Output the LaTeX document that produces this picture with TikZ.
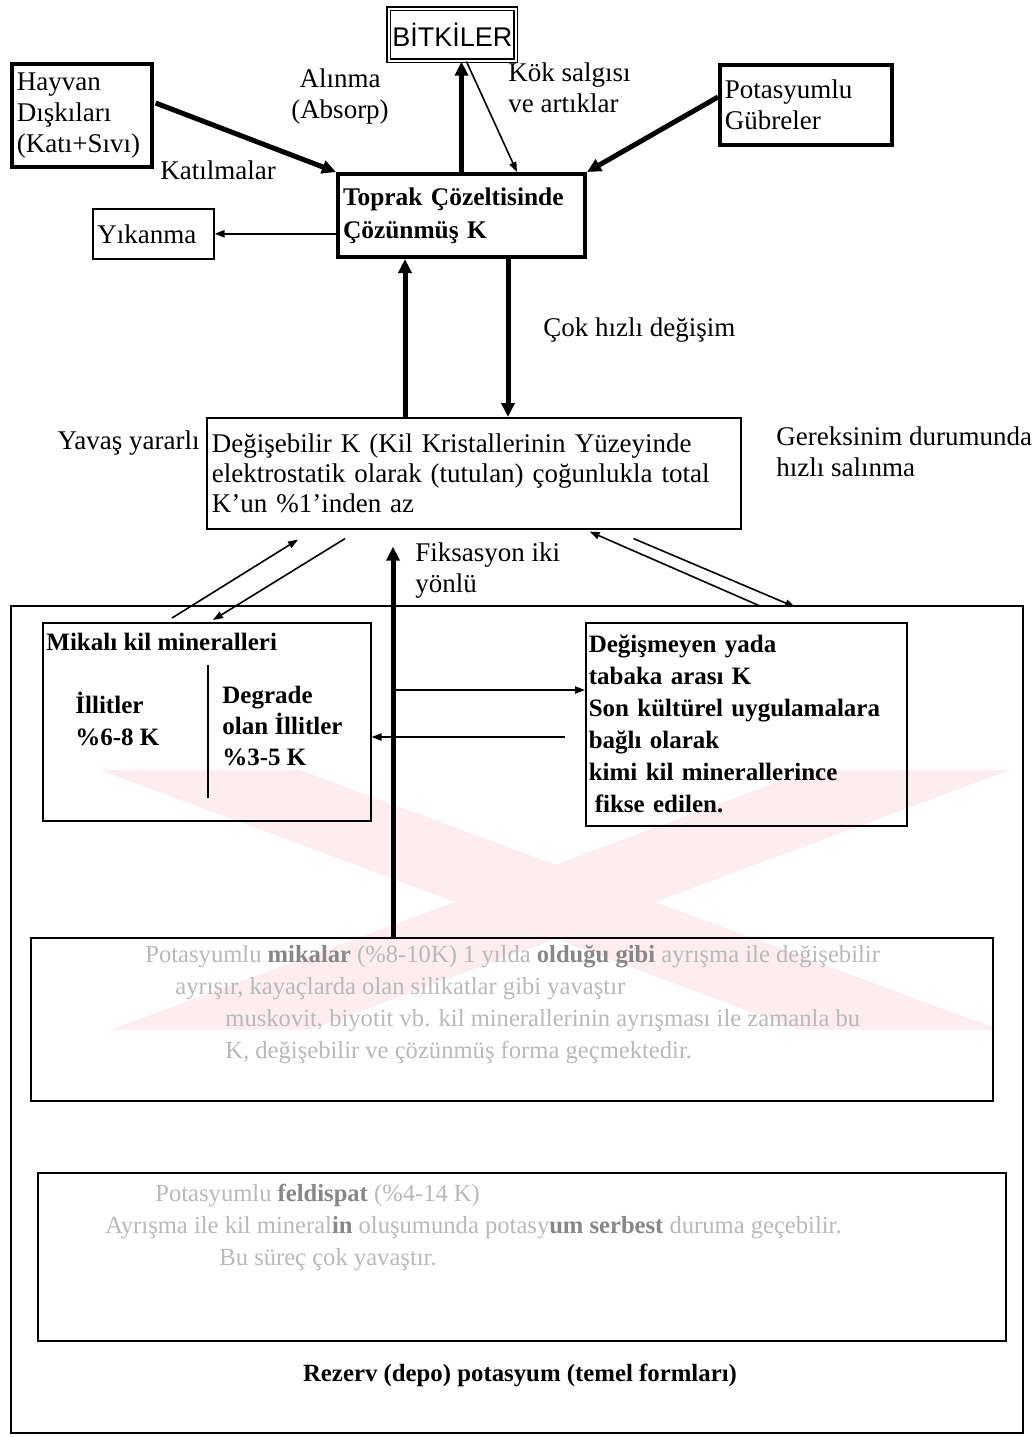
\documentclass[tikz,border=0pt]{standalone}
\usepackage{fontspec}
\setmainfont{Liberation Serif}
\newfontfamily\arialf{Liberation Sans}
\usetikzlibrary{arrows.meta,calc}
\definecolor{wm}{RGB}{253,237,240}
\definecolor{fade}{RGB}{185,185,185}
\definecolor{fadedark}{RGB}{135,135,135}
\tikzset{
  reg/.style={font=\fontsize{13.5}{15.5}\selectfont},
  bld/.style={font=\fontsize{12.5}{16}\selectfont\bfseries},
  thickbox/.style={draw, line width=1.8pt, anchor=north west, inner ysep=0pt, inner xsep=2.5pt, align=left},
  thinbox/.style={draw, line width=0.8pt, anchor=north west, inner ysep=0pt, inner xsep=2.5pt, align=left},
  medbox/.style={draw, line width=1.2pt, anchor=north west, inner sep=0pt},
  dblbox/.style={draw, line width=0.8pt, double, double distance=1pt, anchor=north west, inner sep=0pt},
  bigarrow/.style={line width=2.5pt, -{Triangle[length=7pt,width=6.5pt]}},
  smallarrow/.style={line width=0.8pt, -{Triangle[length=5pt,width=3.6pt]}},
  lbl/.style={inner sep=0pt, reg},
  fadetext/.style={inner sep=0pt, anchor=north west, align=left, text=fade, font=\fontsize{12.3}{16}\selectfont},
}
\begin{document}
\begin{tikzpicture}[x=0.5pt,y=-0.5pt]
\useasboundingbox (0,0) rectangle (1036,1437);
\fill[white] (0,0) rectangle (1036,1437);
% watermark
\fill[wm] (100,770) -- (300,770) -- (1000,1030) -- (800,1030) -- cycle;
\fill[wm] (810,770) -- (1010,770) -- (310,1030) -- (110,1030) -- cycle;

% top boxes
\node[dblbox, minimum width=63.5pt, minimum height=26pt, font=\arialf\fontsize{13.5}{16}\selectfont] (bitki) at (388,8) {BİTKİLER};
\node[thickbox, text width=65pt, minimum height=51.5pt, reg] (hayvan) at (10,62) {Hayvan\\Dışkıları\\(Katı+Sıvı)};
\node[thickbox, text width=81pt, minimum height=40pt, reg] (gubre) at (718,63) {Potasyumlu\\Gübreler};
\node[thickbox, line width=2pt, text width=118.5pt, minimum height=41.5pt, font=\fontsize{12.7}{16.5}\selectfont\bfseries] (toprak) at (336,172) {Toprak Çözeltisinde\\Çözünmüş K};
\node[thinbox, text width=56pt, inner xsep=2.25pt, minimum height=25pt, reg] (yikanma) at (92,208) {Yıkanma};

% labels top
\node[lbl, align=center] (alinma) at (340,96) {Alınma\\(Absorp)};
\node[lbl, align=left, anchor=west] (kok) at (508,88) {Kök salgısı\\ve artıklar};
\node[lbl] (katilma) at (218,170) {Katılmalar};

% exchangeable
\node[thinbox, text width=262pt, minimum height=55.5pt, font=\fontsize{13.5}{15}\selectfont] (degis) at (206,417) {Değişebilir K (Kil Kristallerinin Yüzeyinde\\elektrostatik olarak (tutulan) çoğunlukla total\\K’un \%1’inden az};
\node[lbl, anchor=east] (yavas) at (200,443) {Yavaş yararlı};
\node[lbl, align=left, anchor=west] (gerek) at (776,452) {Gereksinim durumunda\\hızlı salınma};
\node[lbl, anchor=west] (cok) at (543,330) {Çok hızlı değişim};
\node[lbl, align=left, anchor=west] (fiks) at (415,571) {Fiksasyon iki\\yönlü};

% reserve
\node[thinbox, inner sep=0pt, minimum width=506pt, minimum height=413.5pt] (rezerv) at (10,605) {};
\node[inner sep=0pt, font=\fontsize{12.4}{15}\selectfont\bfseries] (rezlbl) at (520,1375) {Rezerv (depo) potasyum (temel formları)};

\node[thinbox, inner sep=0pt, minimum width=164pt, minimum height=99pt] (mikali) at (42,622) {};
\node[bld, inner sep=0pt, anchor=west] (mktitle) at (46,642) {Mikalı kil mineralleri};
\node[bld, inner sep=0pt, anchor=west, align=left] (illit) at (75,719) {İllitler\\\%6-8 K};
\node[inner sep=0pt, anchor=west, align=left, font=\fontsize{12.5}{15.5}\selectfont\bfseries] (degrade) at (222,726) {Degrade\\olan İllitler\\\%3-5 K};
\draw[line width=0.8pt] ($(mikali.north west)+(166,43)$) -- ++(0,133);

\node[thinbox, text width=157.5pt, inner xsep=1.5pt, minimum height=101.5pt, bld] (degisme) at (585,622) {Değişmeyen yada\\tabaka arası K\\Son kültürel uygulamalara\\bağlı olarak\\kimi kil minerallerince\\\hspace*{3pt}fikse edilen.};

\node[medbox, minimum width=481pt, minimum height=81.5pt] (potmika) at (30,937) {};
\node[fadetext] (pmtext) at (145,945) {Potasyumlu \textcolor{fadedark}{\textbf{mikalar}} (\%8-10K) 1 yılda \textcolor{fadedark}{\textbf{olduğu gibi}} ayrışma ile değişebilir\\
\hspace*{15pt}ayrışır, kayaçlarda olan silikatlar gibi yavaştır\\
\hspace*{40pt}muskovit, biyotit vb. kil minerallerinin ayrışması ile zamanla bu\\
\hspace*{40pt}K, değişebilir ve çözünmüş forma geçmektedir.};

\node[medbox, line width=0.9pt, minimum width=484pt, minimum height=84pt] (feld) at (37,1172) {};
\node[fadetext] (feldtext) at (105,1184) {\hspace*{25pt}Potasyumlu \textcolor{fadedark}{\textbf{feldispat}} (\%4-14 K)\\
Ayrışma ile kil mineral\textcolor{fadedark}{\textbf{in}} oluşumunda potasy\textcolor{fadedark}{\textbf{um serbest}} duruma geçebilir.\\
\hspace*{57pt}Bu süreç çok yavaştır.};

% connectors top
\draw[bigarrow] ($(hayvan.north east)+(2,41)$) -- (toprak.north west);
\draw[bigarrow] ($(gubre.north west)+(0,34)$) -- (toprak.north east);
\draw[bigarrow] (toprak.north) -- (toprak.north |- bitki.south);
\draw[smallarrow] ($(toprak.north |- bitki.south)+(5,0)$) -- ($(toprak.north west)+(181,0)$);
\draw[smallarrow] (toprak.west |- yikanma.east) -- (yikanma.east);

% toprak <-> degis
\draw[bigarrow] ($(degis.north west)+(199,0)$) -- ($(toprak.south west)+(69,0)$);
\draw[bigarrow] ($(toprak.south west)+(172,0)$) -- ($(degis.north west)+(302,0)$);

% degis <-> mikali / degisme
\draw[smallarrow] ($(mikali.north west)+(130,-4)$) -- ($(degis.south west)+(92,10)$);
\draw[smallarrow] ($(degis.south west)+(139,9)$) -- ($(mikali.north west)+(171,-2)$);
\draw[smallarrow] ($(rezerv.north west)+(750,1)$) -- ($(degis.south east)+(-152,2)$);
\draw[smallarrow] ($(degis.south east)+(-108,9)$) -- ($(rezerv.north west)+(785,2)$);

% fixation arrow
\draw[bigarrow] ($(potmika.north west)+(363,0)$) -- ($(degis.south west)+(187,17)$);

% mikali <-> degisme
\coordinate (c1) at ($(mikali.north east)+(22,68)$);
\coordinate (c2) at ($(degisme.north west)+(-20,115)$);
\draw[smallarrow] (c1) -- (c1 -| degisme.west);
\draw[smallarrow] (c2) -- (c2 -| mikali.east);
\end{tikzpicture}
\end{document}
